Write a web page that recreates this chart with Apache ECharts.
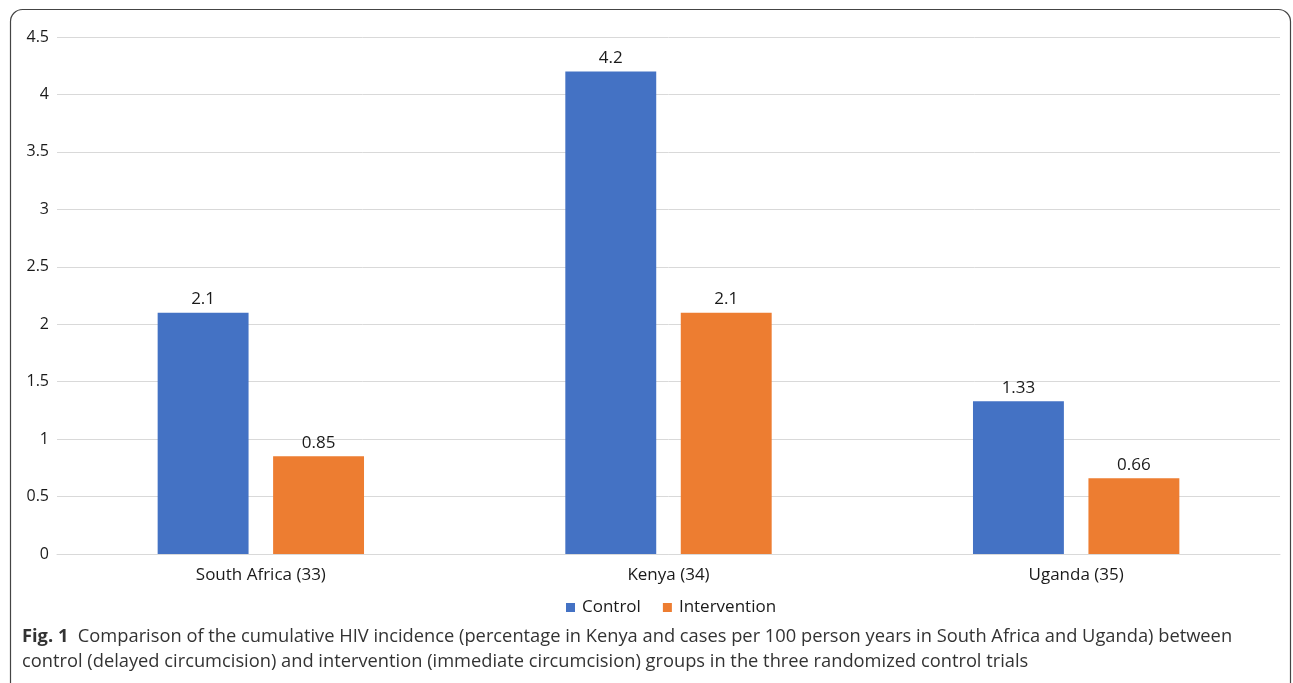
<!DOCTYPE html>
<html><head><meta charset="utf-8">
<script src="https://cdn.jsdelivr.net/npm/echarts@6/dist/echarts.min.js"></script>
<style>html,body{margin:0;padding:0;background:#fff}#c{width:1293px;height:683px}</style>
</head><body><div id="c"></div>
<script>
const categories = ['South Africa (33)', 'Kenya (34)', 'Uganda (35)'];
const controlValues = [2.1, 4.2, 1.33];
const interventionValues = [0.85, 2.1, 0.66];
const seriesNames = ['Control', 'Intervention'];
const captionLine1 = 'Comparison of the cumulative HIV incidence (percentage in Kenya and cases per 100 person years in South Africa and Uganda) between';
const captionLine2 = 'control (delayed circumcision) and intervention (immediate circumcision) groups in the three randomized control trials';

const FONT = '"Open Sans", "Noto Sans", sans-serif';
const chart = echarts.init(document.getElementById('c'), null, {renderer: 'canvas'});
const labelStyle = {show: true, position: 'top', distance: 5, color: '#1a1a1a', fontSize: 17, fontFamily: FONT};
chart.setOption({
  animation: false,
  textStyle: {fontFamily: FONT},
  grid: {left: 57, right: 13, top: 37, bottom: 129, containLabel: false},
  xAxis: {
    type: 'category', data: categories,
    axisLine: {show: true, lineStyle: {color: '#d9d9d9'}},
    axisTick: {show: false},
    axisLabel: {color: '#1a1a1a', fontSize: 17, margin: 13, fontFamily: FONT}
  },
  yAxis: {
    type: 'value', min: 0, max: 4.5, interval: 0.5,
    axisLine: {show: false}, axisTick: {show: false},
    axisLabel: {color: '#1a1a1a', fontSize: 16, margin: 8, fontFamily: FONT},
    splitLine: {lineStyle: {color: '#d9d9d9', width: 1}}
  },
  legend: {
    data: seriesNames, top: 594, left: 561,
    itemWidth: 9, itemHeight: 9, itemGap: 22, icon: 'rect',
    textStyle: {color: '#1a1a1a', fontSize: 17, fontFamily: FONT, padding: [0, 0, 0, 2]}
  },
  series: [
    {name: seriesNames[0], type: 'bar', data: controlValues, barWidth: '22.3%', barGap: '27%',
     itemStyle: {color: '#4472c4'}, label: labelStyle},
    {name: seriesNames[1], type: 'bar', data: interventionValues, barWidth: '22.3%',
     itemStyle: {color: '#ed7d31'}, label: labelStyle}
  ],
  graphic: [
    {type: 'rect', shape: {x: 10.5, y: 9.5, width: 1280, height: 720, r: 12}, silent: true, z: -10,
     style: {fill: 'none', stroke: '#444', lineWidth: 1.2}},
    {type: 'text', left: 22, top: 624,
     style: {text: '{b|Fig. 1}  ' + captionLine1 + '\n' + captionLine2,
       fill: '#333', font: '18.3px ' + FONT, lineHeight: 25,
       rich: {b: {fontWeight: 'bold', fontSize: 18.3, fontFamily: FONT, fill: '#333', lineHeight: 25}}}}
  ]
});
</script></body></html>
